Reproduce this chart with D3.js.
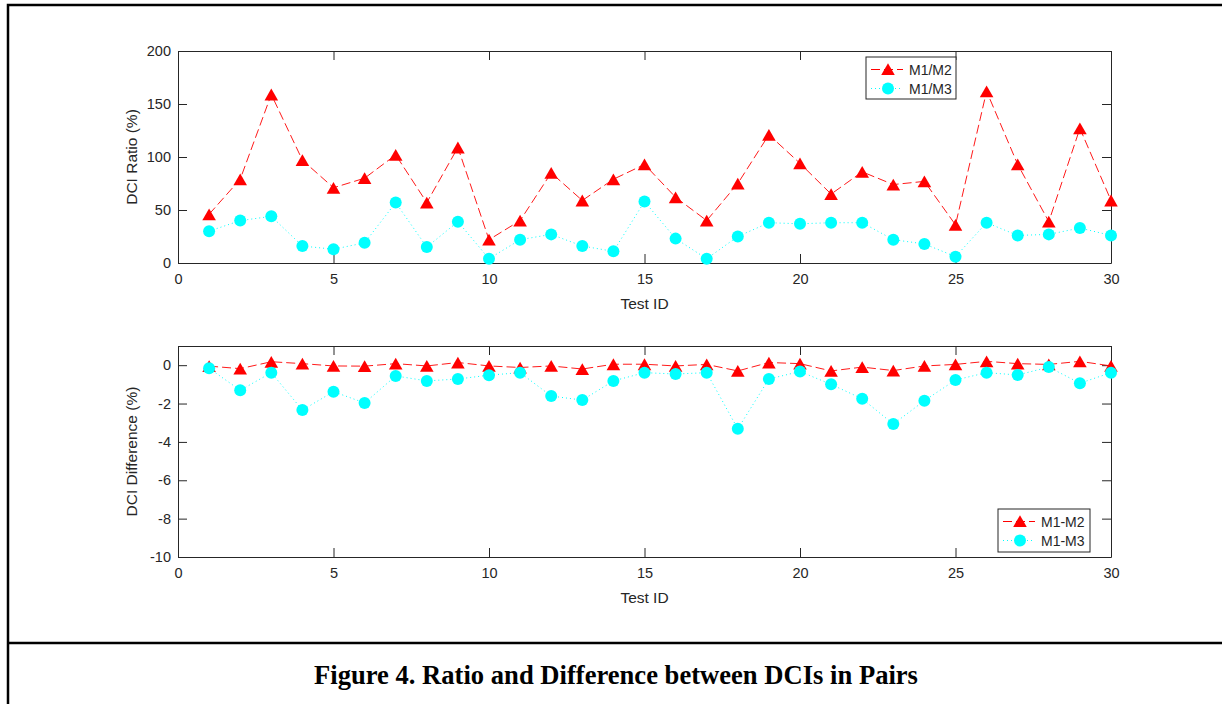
<!DOCTYPE html>
<html>
<head>
<meta charset="utf-8">
<script src="https://cdn.jsdelivr.net/npm/d3@7"></script>
<style>
  body { margin: 0; background: #fff; }
  svg text { font-family: "Liberation Sans", Arial, sans-serif; fill: #262626; }
</style>
</head>
<body>
<div class="container"></div>
<script>
const width = 1222;
const height = 704;

// data
const testIds = d3.range(1, 31);
const ratioM1M2 = [46, 79, 159, 97, 71, 80, 102, 57, 109, 22, 40, 85, 59, 79, 93, 62, 40, 75, 121, 94,
                   65, 86, 74, 77, 36, 162, 93, 39, 127, 59];
const ratioM1M3 = [30, 40, 44, 16, 13, 19, 57, 15, 39, 4, 22, 27, 16, 11, 58, 23, 4, 25, 38, 37,
                   38, 38, 22, 18, 6, 38, 26, 27, 33, 26];
const diffM1M2 = [-0.05, -0.18, 0.18, 0.08, -0.04, -0.05, 0.08, -0.04, 0.14, -0.04, -0.12, -0.04, -0.2, 0.05, 0.05,
                  -0.04, 0.04, -0.3, 0.14, 0.08, -0.3, -0.1, -0.28, -0.04, 0.04, 0.2, 0.08, 0.04, 0.2, -0.04];
const diffM1M3 = [-0.16, -1.31, -0.39, -2.34, -1.38, -1.97, -0.56, -0.82, -0.72, -0.52, -0.39, -1.61, -1.82, -0.82, -0.39,
                  -0.46, -0.39, -3.32, -0.72, -0.33, -1.0, -1.75, -3.07, -1.85, -0.77, -0.39, -0.51, -0.1, -0.94, -0.39];
const xTicks = [0, 5, 10, 15, 20, 25, 30];
const ratioTicks = [0, 50, 100, 150, 200];
const diffTicks = [-10, -8, -6, -4, -2, 0];

const svg = d3.select(".container")
    .append("svg")
    .attr("width", width)
    .attr("height", height);

// outer frame like the paper figure
svg.append("path")
    .attr("d", "M8,704 L8,5 L1222,5")
    .attr("fill", "none")
    .attr("stroke", "#000")
    .attr("stroke-width", 2.5);
svg.append("line")
    .attr("x1", 8).attr("x2", 1222)
    .attr("y1", 643).attr("y2", 643)
    .attr("stroke", "#000")
    .attr("stroke-width", 2.5);

svg.append("text")
    .attr("x", 616)
    .attr("y", 684)
    .attr("text-anchor", "middle")
    .style("font-family", "'Liberation Serif', 'Times New Roman', serif")
    .style("font-weight", "bold")
    .style("font-size", "26.6px")
    .style("fill", "#000")
    .text("Figure 4. Ratio and Difference between DCIs in Pairs");

const left = 178, right = 1111;
const x = d3.scaleLinear().domain([0, 30]).range([left, right]);
const plain = d => String(d); // hyphen minus like MATLAB

function panel(top, bottom, yDomain, yTicks, yLabel, s1, s2, names, legendBox) {
    const y = d3.scaleLinear().domain(yDomain).range([bottom, top]);
    const g = svg.append("g");

    // box
    g.append("rect")
        .attr("x", left).attr("y", top)
        .attr("width", right - left).attr("height", bottom - top)
        .attr("fill", "#fff");

    // axes, ticks pointing inward
    const ax = [
        g.append("g").attr("transform", `translate(0,${bottom})`)
            .call(d3.axisBottom(x).tickValues(xTicks).tickFormat(plain).tickSizeInner(-9).tickSizeOuter(0).tickPadding(11)),
        g.append("g").attr("transform", `translate(0,${top})`)
            .call(d3.axisTop(x).tickValues(xTicks).tickSizeInner(-9).tickSizeOuter(0).tickFormat("")),
        g.append("g").attr("transform", `translate(${left},0)`)
            .call(d3.axisLeft(y).tickValues(yTicks).tickFormat(plain).tickSizeInner(-9).tickSizeOuter(0).tickPadding(7)),
        g.append("g").attr("transform", `translate(${right},0)`)
            .call(d3.axisRight(y).tickValues(yTicks).tickSizeInner(-9).tickSizeOuter(0).tickFormat(""))
    ];
    ax.forEach(a => {
        a.select(".domain").attr("stroke", "#262626").attr("stroke-width", 1);
        a.selectAll(".tick line").attr("stroke", "#262626");
        a.selectAll(".tick text").style("font-size", "14.5px").attr("fill", "#262626")
            .style("font-family", "'Liberation Sans', Arial, sans-serif");
    });

    g.append("text")
        .attr("x", (left + right) / 2)
        .attr("y", bottom + 46)
        .attr("text-anchor", "middle")
        .style("font-size", "15.5px")
        .text("Test ID");

    g.append("text")
        .attr("transform", `translate(137,${(top + bottom) / 2}) rotate(-90)`)
        .attr("text-anchor", "middle")
        .style("font-size", "15.5px")
        .text(yLabel);

    const line = d3.line().x((d, i) => x(testIds[i])).y(d => y(d));

    g.append("path").datum(s1)
        .attr("d", line)
        .attr("fill", "none")
        .attr("stroke", "#ff0000")
        .attr("stroke-width", 0.9)
        .attr("stroke-dasharray", "9,4");
    g.append("path").datum(s2)
        .attr("d", line)
        .attr("fill", "none")
        .attr("stroke", "#00ffff")
        .attr("stroke-width", 1)
        .attr("stroke-dasharray", "1,3");

    // triangle drawn around its bounding-box centre, as MATLAB does
    const tri = d3.symbol().type(d3.symbolTriangle).size(80);
    g.selectAll(".tri").data(s1).join("path")
        .attr("class", "tri")
        .attr("d", tri)
        .attr("transform", (d, i) => `translate(${x(testIds[i])},${y(d) + 2})`)
        .attr("fill", "#ff0000");
    g.selectAll(".dot").data(s2).join("circle")
        .attr("class", "dot")
        .attr("cx", (d, i) => x(testIds[i]))
        .attr("cy", d => y(d))
        .attr("r", 6)
        .attr("fill", "#00ffff");

    // legend
    const [lx, ly, lw, lh] = legendBox;
    const lg = g.append("g").attr("transform", `translate(${lx},${ly})`);
    lg.append("rect").attr("width", lw).attr("height", lh)
        .attr("fill", "#fff").attr("stroke", "#262626").attr("stroke-width", 1);
    const rows = [
        { name: names[0], color: "#ff0000", dash: "9,4", mark: "tri" },
        { name: names[1], color: "#00ffff", dash: "1,3", mark: "dot" }
    ];
    rows.forEach((r, i) => {
        const cy = 12.5 + i * 19;
        lg.append("line").attr("x1", 5).attr("x2", 37).attr("y1", cy).attr("y2", cy)
            .attr("stroke", r.color).attr("stroke-dasharray", r.dash);
        if (r.mark === "tri") {
            lg.append("path").attr("d", tri).attr("transform", `translate(22,${cy + 1.5})`).attr("fill", r.color);
        } else {
            lg.append("circle").attr("cx", 22).attr("cy", cy).attr("r", 6).attr("fill", r.color);
        }
        lg.append("text").attr("x", 43).attr("y", cy + 5)
            .style("font-size", "14px").text(r.name);
    });
}

panel(51, 263, [0, 200], ratioTicks, "DCI Ratio (%)", ratioM1M2, ratioM1M3,
      ["M1/M2", "M1/M3"], [866, 57, 90, 42]);
panel(346, 557, [-10, 1], diffTicks, "DCI Difference (%)", diffM1M2, diffM1M3,
      ["M1-M2", "M1-M3"], [998, 509, 92, 43]);
</script>
</body>
</html>
